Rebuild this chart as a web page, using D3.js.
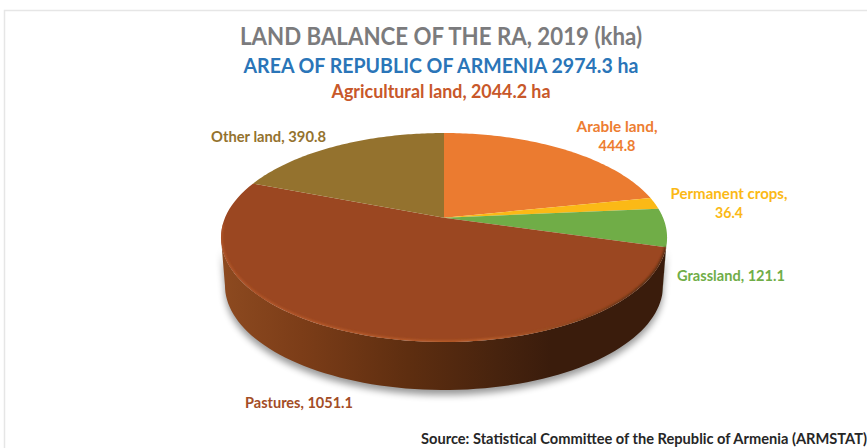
<!DOCTYPE html>
<html>
<head>
<meta charset="utf-8">
<script src="https://cdn.jsdelivr.net/npm/d3@7"></script>
<style>
    html, body { margin: 0; padding: 0; background: #fff; overflow: hidden; }
    svg { display: block; }
    text { font-family: Lato, "Open Sans", sans-serif; font-weight: 700; }
</style>
</head>
<body>
<div id="chart"></div>
<script>
const categories = ["Arable land", "Permanent crops", "Grassland", "Pastures", "Other land"];
const values = [444.8, 36.4, 121.1, 1051.1, 390.8];
const titleLines = [
    "LAND BALANCE OF THE RA, 2019 (kha)",
    "AREA OF REPUBLIC OF ARMENIA 2974.3 ha",
    "Agricultural land, 2044.2 ha"
];
const sourceLine = "Source: Statistical Committee of the Republic of Armenia (ARMSTAT)";

const width = 867, height = 448;
const colors = ["#eb7b30", "#fbb916", "#70ad47", "#9b4721", "#94722e"];
const labelColors = ["#ed7d31", "#fbb916", "#70ad47", "#a34d26", "#94722e"];

// x/y = first line centre + baseline, w = measured width of each line
const labelLayout = [
    { lines: 2, x: 617, y: 131.5, w: [81, 37] },
    { lines: 2, x: 729, y: 198.5, w: [117, 28] },
    { lines: 1, x: 731, y: 280.5, w: [108] },
    { lines: 1, x: 299, y: 407.5, w: [108] },
    { lines: 1, x: 268.5, y: 141.5, w: [115] }
];

// perspective disc, fitted to the tilted pie
const cx = 444, apexY = 217.7, depth = 48, baseShrink = 0.982;
const scaleU = 219, scaleV = 100.75, persp = 0.1895;
const project = (a, r = 1) => {
    const u = r * Math.sin(a), v = r * Math.cos(a), w = 1 + persp * v;
    return [cx + scaleU * u / w, apexY - scaleV * v / w];
};
const lineGen = d3.line();
const arcPoints = (a0, a1) => d3.range(0, 81).map(i => project(a0 + (a1 - a0) * i / 80));

const svg = d3.select("#chart").append("svg")
    .attr("width", width)
    .attr("height", height)
    .attr("viewBox", `0 0 ${width} ${height}`);

const defs = svg.append("defs");
defs.append("filter").attr("id", "shadow-blur")
    .attr("x", "-10%").attr("y", "-10%").attr("width", "120%").attr("height", "130%")
    .append("feGaussianBlur").attr("stdDeviation", 3.5);
defs.append("filter").attr("id", "rim-blur")
    .append("feGaussianBlur").attr("stdDeviation", 0.8);
defs.append("clipPath").attr("id", "disc-clip")
    .append("path")
    .attr("d", lineGen(arcPoints(0, 2 * Math.PI)) + "Z");

const addGradient = (id, stops) => {
    const g = defs.append("linearGradient").attr("id", id)
        .attr("gradientUnits", "userSpaceOnUse")
        .attr("x1", 221).attr("x2", 667).attr("y1", 0).attr("y2", 0);
    stops.forEach(s => g.append("stop").attr("offset", s[0]).attr("stop-color", s[1]));
};
addGradient("wall-fill", [[0, "#8d4a20"], [0.18, "#7c3d18"], [0.42, "#5e2e10"], [0.62, "#47230e"], [0.74, "#3a1c0c"], [1, "#3a1c0c"]]);
addGradient("rim-stroke", [[0, "#b2562a"], [0.6, "#bd602c"], [0.78, "#8a4720"], [0.95, "#4f2a12"], [1, "#4f2a12"]]);

// frame
svg.append("path")
    .attr("d", `M4.5,${height}V10.5H${width}`)
    .attr("fill", "none")
    .attr("stroke", "#e6e6e6")
    .attr("stroke-width", 1.5);

// titles
const titleStyle = [
    { y: 45, size: 24.5, fill: "#7b7b7d", w: 402 },
    { y: 73, size: 21, fill: "#2a75b8", w: 395 },
    { y: 97.5, size: 18, fill: "#c8582a", w: 219 }
];
svg.selectAll(".title")
    .data(titleLines)
    .enter()
    .append("text")
    .attr("class", "title")
    .attr("x", 441)
    .attr("y", (d, i) => titleStyle[i].y)
    .attr("text-anchor", "middle")
    .attr("textLength", (d, i) => titleStyle[i].w)
    .attr("lengthAdjust", "spacingAndGlyphs")
    .style("font-size", (d, i) => titleStyle[i].size + "px")
    .style("fill", (d, i) => titleStyle[i].fill)
    .text(d => d);

const pie = d3.pie().sort(null).value(d => d);
const slices = pie(values);

// front wall runs between the left and right extremes of the projected disc
const wallStart = Math.acos(-persp), wallEnd = 2 * Math.PI - wallStart;
const wallPath = (a0, a1) => {
    const top = arcPoints(a0, a1);
    const bottom = top.map(p => [cx + (p[0] - cx) * baseShrink, p[1] + depth]).reverse();
    return lineGen(top.concat(bottom)) + "Z";
};

svg.append("path")
    .attr("d", wallPath(wallStart, wallEnd))
    .attr("transform", "translate(0,5)")
    .attr("fill", "#000")
    .attr("opacity", 0.4)
    .attr("filter", "url(#shadow-blur)");

slices.forEach((s, i) => {
    const a0 = Math.max(s.startAngle, wallStart), a1 = Math.min(s.endAngle, wallEnd);
    if (a1 <= a0) return;
    svg.append("path")
        .attr("class", "wall")
        .attr("d", wallPath(a0, a1))
        .attr("fill", categories[i] === "Pastures" ? "url(#wall-fill)" : "#2f4a1c");
});

// top of the pie
svg.selectAll(".slice")
    .data(slices)
    .enter()
    .append("path")
    .attr("class", "slice")
    .attr("d", d => lineGen([project(0, 0)].concat(arcPoints(d.startAngle, d.endAngle))) + "Z")
    .attr("fill", (d, i) => colors[i]);

// lit edge where the pastures slice meets the wall
svg.append("g")
    .attr("clip-path", "url(#disc-clip)")
    .append("path")
    .attr("d", lineGen(arcPoints(Math.max(slices[3].startAngle, wallStart), wallEnd + 0.12)))
    .attr("fill", "none")
    .attr("stroke", "url(#rim-stroke)")
    .attr("stroke-width", 3)
    .attr("filter", "url(#rim-blur)");

// slice labels
categories.forEach((name, i) => {
    const l = labelLayout[i];
    const text = `${name}, ${values[i].toFixed(1)}`;
    const rows = l.lines === 2 ? [`${name},`, values[i].toFixed(1)] : [text];
    rows.forEach((row, j) => {
        svg.append("text")
            .attr("class", "label")
            .attr("x", l.x)
            .attr("y", l.y + j * 19.5)
            .attr("text-anchor", "middle")
            .attr("textLength", l.w[j])
            .attr("lengthAdjust", "spacingAndGlyphs")
            .style("font-size", "14.5px")
            .style("fill", labelColors[i])
            .text(row);
    });
});

svg.append("text")
    .attr("x", 421)
    .attr("y", 444)
    .attr("textLength", 446)
    .attr("lengthAdjust", "spacingAndGlyphs")
    .style("font-size", "14.5px")
    .style("fill", "#262626")
    .text(sourceLine);
</script>
</body>
</html>
